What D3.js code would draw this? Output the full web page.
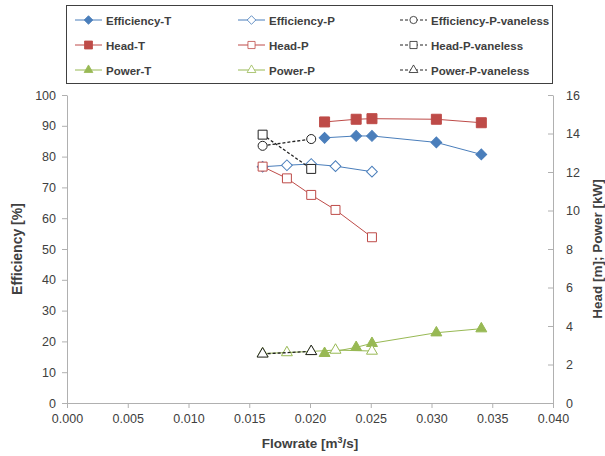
<!DOCTYPE html>
<html>
<head>
<meta charset="utf-8">
<script src="https://cdn.jsdelivr.net/npm/d3@7"></script>
<style>
  body { margin: 0; background: #fff; }
  text { font-family: "Liberation Sans", Arial, sans-serif; fill: #404040; }
</style>
</head>
<body>
<svg id="chart" width="605" height="456"></svg>
<script>
// flowrate [m3/s] and measured values
const flowT = [0.0212, 0.0238, 0.0251, 0.0304, 0.0341];
const effT = [86.1, 86.7, 86.7, 84.6, 80.7];
const headT = [14.6, 14.74, 14.77, 14.74, 14.56];
const powerT = [2.58, 2.89, 3.1, 3.65, 3.86];

const flowP = [0.0161, 0.0181, 0.0201, 0.0221, 0.0251];
const effP = [76.7, 77.2, 77.6, 76.9, 75.1];
const headP = [12.28, 11.67, 10.81, 10.03, 8.61];
const powerP = [2.57, 2.62, 2.68, 2.75, 2.7];

const flowV = [0.0161, 0.0201];
const effV = [83.5, 85.7];
const headV = [13.94, 12.16];
const powerV = [2.55, 2.68];

const xTicks = [0, 0.005, 0.01, 0.015, 0.02, 0.025, 0.03, 0.035, 0.04];
const yLeftTicks = [0, 10, 20, 30, 40, 50, 60, 70, 80, 90, 100];
const yRightTicks = [0, 2, 4, 6, 8, 10, 12, 14, 16];

const blue = "#4a7ebb", red = "#be4b48", green = "#98b954", black = "#222";

const series = [
  { name: "Efficiency-T", x: flowT, y: effT, axis: "L", color: blue, shape: "diamond", fill: true, dash: null },
  { name: "Efficiency-P", x: flowP, y: effP, axis: "L", color: blue, shape: "diamond", fill: false, dash: null },
  { name: "Efficiency-P-vaneless", x: flowV, y: effV, axis: "L", color: black, shape: "circle", fill: false, dash: "3,2" },
  { name: "Head-T", x: flowT, y: headT, axis: "R", color: red, shape: "square", fill: true, dash: null },
  { name: "Head-P", x: flowP, y: headP, axis: "R", color: red, shape: "square", fill: false, dash: null },
  { name: "Head-P-vaneless", x: flowV, y: headV, axis: "R", color: black, shape: "square", fill: false, dash: "3,2" },
  { name: "Power-T", x: flowT, y: powerT, axis: "R", color: green, shape: "triangle", fill: true, dash: null },
  { name: "Power-P", x: flowP, y: powerP, axis: "R", color: green, shape: "triangle", fill: false, dash: null },
  { name: "Power-P-vaneless", x: flowV, y: powerV, axis: "R", color: black, shape: "triangle", fill: false, dash: "3,2" }
];

const margin = { top: 95, right: 52, bottom: 53, left: 67 };
const width = 605 - margin.left - margin.right;
const height = 456 - margin.top - margin.bottom;

const svg = d3.select("#chart");
const g = svg.append("g").attr("transform", `translate(${margin.left},${margin.top})`);

const x = d3.scaleLinear().domain([0, 0.04]).range([0, width]);
const yL = d3.scaleLinear().domain([0, 100]).range([height, 0]);
const yR = d3.scaleLinear().domain([0, 16]).range([height, 0]);

// axes
const axisColor = "#b0b0b0";
function styleAxis(sel) {
  sel.select(".domain").attr("stroke", axisColor);
  sel.selectAll(".tick line").attr("stroke", axisColor);
  sel.selectAll(".tick text").attr("fill", "#404040").style("font-size", "12.5px")
    .style("font-family", "'Liberation Sans', Arial, sans-serif");
}

g.append("g").attr("transform", `translate(0,${height})`)
  .call(d3.axisBottom(x).tickValues(xTicks).tickFormat(d3.format(".3f")).tickSize(5).tickSizeOuter(0).tickPadding(6))
  .call(styleAxis);

g.append("g")
  .call(d3.axisLeft(yL).tickValues(yLeftTicks).tickSize(5).tickSizeOuter(0).tickPadding(6))
  .call(styleAxis);

g.append("g").attr("transform", `translate(${width},0)`)
  .call(d3.axisRight(yR).tickValues(yRightTicks).tickSize(-5).tickSizeOuter(0).tickPadding(13))
  .call(styleAxis);

// axis titles
svg.append("text").attr("x", margin.left + width / 2).attr("y", 448)
  .attr("text-anchor", "middle").style("font-size", "13.5px").style("font-weight", "bold")
  .html("Flowrate [m<tspan dy='-5' font-size='9px'>3</tspan><tspan dy='5'>/s]</tspan>");

svg.append("text").attr("transform", `translate(22,${margin.top + height / 2}) rotate(-90)`)
  .attr("text-anchor", "middle").style("font-size", "14px").style("font-weight", "bold")
  .text("Efficiency [%]");

svg.append("text").attr("transform", `translate(602,${margin.top + height / 2}) rotate(-90)`)
  .attr("text-anchor", "middle").style("font-size", "13.5px").style("font-weight", "bold")
  .text("Head [m]; Power [kW]");

// marker drawing
function marker(sel, s) {
  const fill = s.fill ? s.color : "#fff";
  if (s.shape === "diamond") {
    sel.append("path").attr("d", d3.symbol(d3.symbolSquare, 58)())
      .attr("transform", "rotate(45)");
  } else if (s.shape === "square") {
    sel.append("path").attr("d", d3.symbol(d3.symbolSquare, s.fill ? 100 : 80)());
  } else if (s.shape === "circle") {
    sel.append("path").attr("d", d3.symbol(d3.symbolCircle, 64)());
  } else {
    sel.append("path").attr("d", d3.symbol(d3.symbolTriangle, 52)());
  }
  sel.select("path").attr("fill", fill).attr("stroke", s.color).attr("stroke-width", 1);
}

const line = d3.line();

series.forEach((s) => {
  const yS = s.axis === "L" ? yL : yR;
  const pts = s.x.map((d, i) => [x(d), yS(s.y[i])]);
  g.append("path").attr("d", line(pts)).attr("fill", "none")
    .attr("stroke", s.color).attr("stroke-width", s.dash ? 1.3 : 1)
    .attr("stroke-dasharray", s.dash);
  g.append("g").selectAll("g").data(pts).join("g")
    .attr("transform", (d) => `translate(${d[0]},${d[1]})`)
    .each(function () { marker(d3.select(this), s); });
});

// legend
const legend = svg.append("g");
legend.append("rect").attr("x", 66.5).attr("y", 5.5).attr("width", 486).attr("height", 78)
  .attr("fill", "#fff").attr("stroke", "#404040").attr("stroke-width", 1);

const colX = [75, 238, 400];
const rowY = [20, 45, 70];
series.forEach((s, i) => {
  const cx = colX[i % 3], cy = rowY[Math.floor(i / 3)];
  const item = legend.append("g").attr("transform", `translate(${cx},${cy})`);
  item.append("line").attr("x1", 0).attr("x2", 27).attr("y1", 0).attr("y2", 0)
    .attr("stroke", s.color).attr("stroke-width", 1).attr("stroke-dasharray", s.dash);
  const m = item.append("g").attr("transform", "translate(13.5,0) scale(0.8)");
  marker(m, s);
  item.append("text").attr("x", 31).attr("y", 4.5)
    .style("font-size", "11.5px").style("font-weight", "bold").attr("fill", "#111")
    .text(s.name);
});
</script>
</body>
</html>
